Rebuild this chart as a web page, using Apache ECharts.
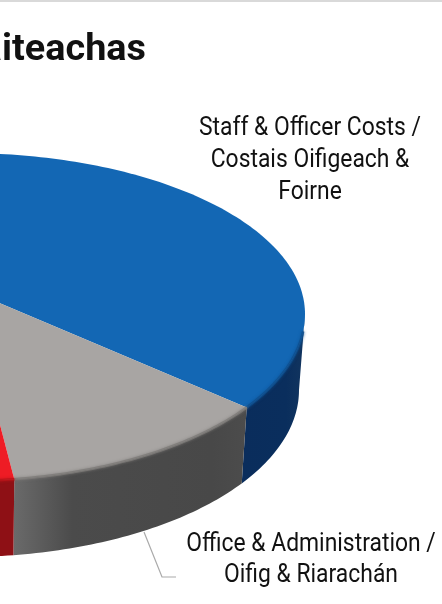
<!DOCTYPE html>
<html><head><meta charset="utf-8">
<style>html,body{margin:0;padding:0;background:#fff}#c{width:442px;height:604px}</style>
<script src="https://cdn.jsdelivr.net/npm/echarts@6/dist/echarts.min.js"></script>
</head><body><div id="c"></div>
<script>
// Data (percent shares, read from the visible slice angles; parts off the crop are estimates)
const categories = ['Staff & Officer Costs /\nCostais Oifigeach &\nFoirne', 'Office & Administration /\nOifig & Riarachán', 'Red slice', 'Other'];
const values = [45, 13.2, 10, 31.8];
const topColors = ['#1367b4', '#a8a5a3', '#ee1c25', '#808080'];
const title = 'Caiteachas';

const startDeg = -128;
const tip = [-36, 288];
const topE = {cx: -36, cy: 314, a: 341, bUp: 161, bDown: 167};
const botE = {cx: -36, cy: 390, a: 335, bUp: 167, bDown: 167};
const total = values.reduce((s, v) => s + v, 0);
const rad = d => d * Math.PI / 180;
const onE = (e, d) => {
  const s = Math.sin(rad(d));
  return [e.cx + e.a * Math.cos(rad(d)), e.cy + (s < 0 ? e.bUp : e.bDown) * s];
};
function arc(e, d0, d1) {
  const pts = [], n = Math.max(2, Math.ceil(Math.abs(d1 - d0)));
  for (let i = 0; i <= n; i++) pts.push(onE(e, d0 + (d1 - d0) * i / n));
  return pts;
}
const LG = echarts.graphic.LinearGradient;
function sideFill(i, x0, x1) {
  if (i === 0) return new LG(x0, 0, x1, 0, [{offset: 0, color: '#0a2d5c'}, {offset: .7, color: '#0a2e5d'}, {offset: 1, color: '#12355f'}], true);
  if (i === 1) return new LG(14, 0, 247, 0, [{offset: 0, color: '#6a6a6a'}, {offset: .1, color: '#5e5e5e'}, {offset: .25, color: '#4b4b4b'}, {offset: .85, color: '#484848'}, {offset: 1, color: '#4c4c4c'}], true);
  if (i === 2) return '#8e1015';
  return '#555';
}
const font = 'Roboto,"Noto Sans",sans-serif';
function renderItem(params, api) {
  const i = params.dataIndex;
  let acc = 0;
  for (let k = 0; k < i; k++) acc += values[k];
  const d0 = startDeg + acc / total * 360;
  const d1 = startDeg + (acc + api.value(0)) / total * 360;
  const children = [];
  const s0 = Math.max(d0, 0), s1 = Math.min(d1, 180);
  if (s1 > s0) {
    const up = arc(topE, s0, s1), down = arc(botE, s1, s0);
    const xs = up.map(p => p[0]).concat(down.map(p => p[0]));
    children.push({type: 'polygon', shape: {points: up.concat(down)},
      style: {fill: sideFill(i, Math.min.apply(null, xs), Math.max.apply(null, xs))}});
  }
  const topArc = arc(topE, d0, d1);
  children.push({type: 'polygon', shape: {points: [tip].concat(topArc)}, style: {fill: topColors[i]}});
  if (s1 > s0) {
    const c = i === 0 ? '#0e4f8f' : i === 1 ? '#7d7a78' : '#b81419';
    children.push({type: 'polyline', shape: {points: arc(topE, s0 + (i === 0 ? 6 : 0), s1)},
      style: {fill: null, stroke: c, lineWidth: 2.5, opacity: .8, shadowBlur: 3, shadowColor: c}});
  }
  return {type: 'group', children};
}
const chart = echarts.init(document.getElementById('c'));
const txt = (x, y, text, lh) => ({type: 'text', x, y, scaleX: .88, silent: true,
  style: {text, fontFamily: font, fontSize: 26, lineHeight: lh, fill: '#111', align: 'center', verticalAlign: 'middle'}});
chart.setOption({
  animation: false, backgroundColor: '#fff',
  graphic: [
    {type: 'rect', shape: {x: 0, y: 0, width: 442, height: 2}, style: {fill: '#d9d9d9'}, silent: true},
    {type: 'text', x: 146, y: 51, scaleX: 1.05, silent: true, style: {text: title, fontFamily: font, fontSize: 36, fontWeight: 'bold', fill: '#111', align: 'right', verticalAlign: 'middle'}},
    txt(310, 160.5, categories[0], 32),
    txt(311, 560, categories[1], 31),
    {type: 'polyline', silent: true, shape: {points: [[144, 532], [162, 577], [176, 577]]}, style: {fill: null, stroke: '#aaa', lineWidth: 1.2}}
  ],
  series: [{type: 'custom', coordinateSystem: 'none', silent: true, renderItem, data: values.map(v => [v])}]
});
</script></body></html>
